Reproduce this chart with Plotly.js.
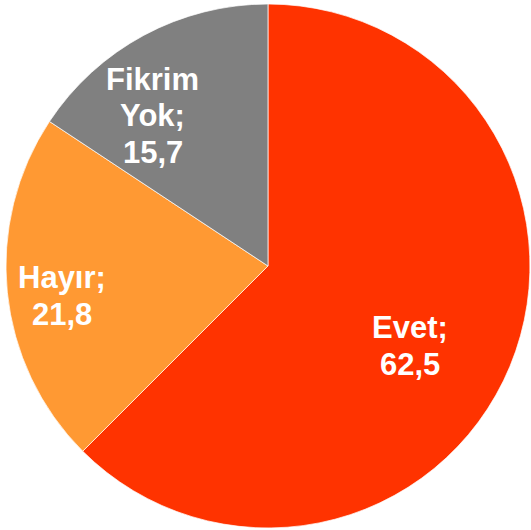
<!DOCTYPE html>
<html>
<head>
<meta charset="utf-8">
<script src="https://cdn.plot.ly/plotly-3.0.1.min.js"></script>
<style>html,body{margin:0;padding:0;background:#fff;}#chart{width:531px;height:530px;}</style>
</head>
<body>
<div id="chart"></div>
<script>
const categories = ["Evet", "Hayır", "Fikrim Yok"];
const labelLines = [["Evet;"], ["Hayır;"], ["Fikrim", "Yok;"]];
const values = [62.5, 21.8, 15.7];
const valueLabels = ["62,5", "21,8", "15,7"];
const colors = ["#FF3300", "#FF9933", "#808080"];

// label placement styling (radial fraction of radius, angular tweak in degrees)
const labelRadius = [0.616, 0.793, 0.733];
const labelAngleShift = [6, -1.7, -8.7];
const lineGap = 36.5;   // px between text lines
const fontSize = 31;

const W = 531, H = 530;
const dom = {x: [0.0113, 0.998], y: [0.0038, 0.9925]};

const trace = {
  type: "pie",
  labels: categories,
  values: values,
  textinfo: "none",
  sort: false,
  direction: "clockwise",
  rotation: 0,
  marker: {colors: colors, line: {color: "#ffffff", width: 0.7}},
  hoverinfo: "none",
  domain: dom
};

// compute label positions from the data (slice mid-angles)
const total = values.reduce((a, b) => a + b, 0);
const cxPx = (dom.x[0] + dom.x[1]) / 2 * W;
const cyPx = (1 - (dom.y[0] + dom.y[1]) / 2) * H;
const R = Math.min((dom.x[1] - dom.x[0]) * W, (dom.y[1] - dom.y[0]) * H) / 2;
let cum = 0;
const annotations = [];
values.forEach((v, i) => {
  const mid = (cum + v / 2) / total * 360 + labelAngleShift[i];
  cum += v;
  const th = mid * Math.PI / 180;
  const px = cxPx + R * labelRadius[i] * Math.sin(th);
  const py = cyPx - R * labelRadius[i] * Math.cos(th);
  const lines = labelLines[i].concat([valueLabels[i]]);
  const n = lines.length;
  lines.forEach((ln, j) => {
    const ly = py + (j - (n - 1) / 2) * lineGap + 3;
    annotations.push({
      xref: "paper", yref: "paper",
      x: px / W, y: 1 - ly / H,
      xanchor: "center", yanchor: "middle",
      showarrow: false,
      text: "<b>" + ln + "</b>",
      font: {family: "Liberation Sans, Arial, sans-serif", size: fontSize, color: "#ffffff"}
    });
  });
});

const layout = {
  width: W, height: H,
  margin: {l: 0, r: 0, t: 0, b: 0},
  showlegend: false,
  paper_bgcolor: "#ffffff",
  plot_bgcolor: "#ffffff",
  annotations: annotations
};

Plotly.newPlot("chart", [trace], layout, {displayModeBar: false, staticPlot: true});
</script>
</body>
</html>
